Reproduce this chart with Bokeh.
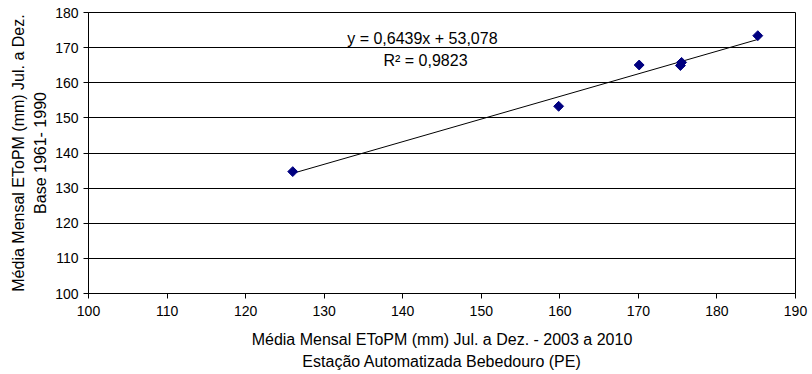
import math
from bokeh.plotting import figure
from bokeh.models import FixedTicker, Range1d, Label, ColumnDataSource, LinearAxis
from bokeh.embed import file_html
from bokeh.resources import INLINE

# Data
x_vals = [126.0, 159.85, 170.1, 175.35, 175.5, 185.2]
y_vals = [134.7, 153.3, 165.05, 164.9, 165.8, 173.4]
slope = 0.6439
intercept = 53.078
r2 = 0.9823
x_ticks = [100, 110, 120, 130, 140, 150, 160, 170, 180, 190]
y_ticks = [100, 110, 120, 130, 140, 150, 160, 170, 180]
x_title = ["Média Mensal EToPM (mm) Jul. a Dez. - 2003 a 2010",
           "Estação Automatizada Bebedouro (PE)"]
y_title = ["Média Mensal EToPM (mm) Jul. a Dez.", "Base 1961- 1990"]

FONT = "Liberation Sans"

p = figure(width=812, height=374, output_backend="svg", toolbar_location=None,
           x_range=Range1d(100, 190), y_range=Range1d(100, 180),
           min_border_left=88, min_border_right=17, min_border_top=12, min_border_bottom=81)

p.background_fill_color = "white"
p.border_fill_color = "white"
p.outline_line_color = "black"
p.outline_line_width = 1

p.xgrid.grid_line_color = None
p.ygrid.grid_line_color = "black"
p.ygrid.grid_line_width = 1

for ax in (p.xaxis[0], p.yaxis[0]):
    ax.axis_line_color = "black"
    ax.major_tick_line_color = "black"
    ax.major_tick_out = 5
    ax.major_tick_in = 0
    ax.minor_tick_line_color = None
    ax.major_label_text_font = FONT
    ax.major_label_text_font_size = "14px"
    ax.major_label_text_color = "black"
    ax.axis_label_text_font = FONT
    ax.axis_label_text_font_size = "16px"
    ax.axis_label_text_font_style = "normal"
    ax.axis_label_text_color = "black"

p.xaxis.ticker = FixedTicker(ticks=x_ticks)
p.yaxis.ticker = FixedTicker(ticks=y_ticks)
p.xaxis.major_label_standoff = 7
p.yaxis.major_label_standoff = 5
p.xaxis.axis_label = "\n".join(x_title)
p.xaxis.axis_label_standoff = 12
p.xaxis.axis_label_text_line_height = 1.3
p.yaxis.axis_label = y_title[1]
p.yaxis.axis_label_standoff = 3

# Outer y title line as a bare axis
outer = LinearAxis(ticker=FixedTicker(ticks=[]), axis_line_color=None,
                   major_tick_line_color=None, minor_tick_line_color=None,
                   axis_label=y_title[0], axis_label_text_font=FONT,
                   axis_label_text_font_size="16px", axis_label_text_font_style="normal",
                   axis_label_text_color="black", axis_label_standoff=3,
                   major_label_text_font_size="0px")
p.add_layout(outer, "left")

# Trend line
xmin, xmax = min(x_vals), max(x_vals)
p.line([xmin, xmax], [slope * xmin + intercept, slope * xmax + intercept],
       line_color="black", line_width=1)

src = ColumnDataSource(dict(x=x_vals, y=y_vals))
p.scatter("x", "y", source=src, marker="square", size=7, angle=math.pi / 4,
          fill_color="#000080", line_color="#000080")

eq = "y = " + f"{slope:.4f}".replace(".", ",") + "x + " + f"{intercept:.3f}".replace(".", ",")
rtxt = "R² = " + f"{r2:.4f}".replace(".", ",")
p.add_layout(Label(x=142.5, y=172.5, text=eq, text_font=FONT, text_font_size="16px",
                   text_align="center", text_baseline="middle", text_color="black"))
p.add_layout(Label(x=142.9, y=166.3, text=rtxt, text_font=FONT, text_font_size="16px",
                   text_align="center", text_baseline="middle", text_color="black"))

open("out.html", "w").write(file_html(p, INLINE))
